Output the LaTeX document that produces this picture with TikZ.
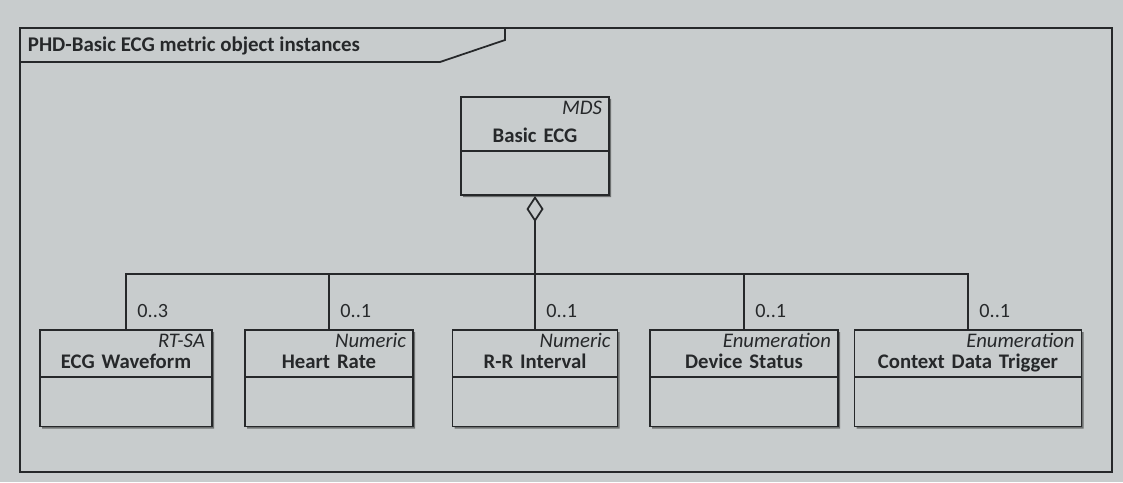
\documentclass[tikz,border=0pt]{standalone}
\usepackage{fontspec}
\setmainfont{Carlito}
\usetikzlibrary{shapes.multipart, arrows.meta, positioning, calc, shadows}
\definecolor{paper}{RGB}{200,204,205}
\definecolor{ink}{RGB}{38,40,42}
\newcommand{\umlhead}[3][0pt]{\makebox[\linewidth][r]{\itshape\strut #2}\\[#1]\textbf{\strut #3}}
\newcommand{\umlbody}[1]{\rule{0pt}{#1}}

\begin{document}
\begin{tikzpicture}[
    x=0.2mm, y=-0.2mm, color=ink, line width=1pt,
    cls/.style={rectangle split, rectangle split parts=2, draw, fill=paper,
                text width=#1, align=center, inner xsep=4pt, inner ysep=1pt,
                font=\fontsize{11.8}{12}\selectfont,
                drop shadow={shadow xshift=1.2pt, shadow yshift=-1.2pt,
                             fill=black, opacity=0.45}},
    mult/.style={anchor=south west, inner sep=1pt,
                 font=\fontsize{11.5}{12.5}\selectfont},
    agg/.style={{Diamond[open, length=0.52cm, width=0.34cm]}-}
  ]
    \fill[paper] (0,0) rectangle (1123,482);

    % package frame
    \draw (20,28) rectangle (1112,472);
    \draw (20,62) -- (440,62) -- (505,40) -- (505,28);
    \node[anchor=west, inner sep=0pt, font=\bfseries\fontsize{11.9}{13}\selectfont]
      (title) at (27,46) {PHD-Basic ECG metric object instances};

    % classes
    \node[cls=2.68cm, anchor=north]
      (mds) at (535,96) {\umlhead[4pt]{MDS}{Basic ECG}\nodepart{second}\umlbody{0.77cm}};
    \node[cls=3.16cm, anchor=north]
      (ecg) at (126,329) {\umlhead{RT-SA}{ECG Waveform}\nodepart{second}\umlbody{0.88cm}};
    \node[cls=3.08cm, anchor=north]
      (hr) at (329,329) {\umlhead{Numeric}{Heart Rate}\nodepart{second}\umlbody{0.88cm}};
    \node[cls=3.02cm, anchor=north]
      (rr) at (535,329) {\umlhead{Numeric}{R-R Interval}\nodepart{second}\umlbody{0.88cm}};
    \node[cls=3.48cm, anchor=north]
      (ds) at (744,329) {\umlhead{Enumeration}{Device Status}\nodepart{second}\umlbody{0.88cm}};
    \node[cls=4.26cm, anchor=north]
      (cdt) at (968,329) {\umlhead{Enumeration}{Context Data Trigger}\nodepart{second}\umlbody{0.88cm}};

    % aggregation
    \coordinate (bus) at (0,274);
    \draw[agg] (mds.south) -- (rr.north);
    \draw (ecg.north) |- (bus -| cdt.north) -- (cdt.north);
    \draw (hr.north) -- (hr.north |- bus);
    \draw (ds.north) -- (ds.north |- bus);

    % multiplicities
    \node[mult] (m-ecg) at ([xshift=5pt, yshift=5pt]ecg.north) {0..3};
    \node[mult] (m-hr) at ([xshift=5pt, yshift=5pt]hr.north) {0..1};
    \node[mult] (m-rr) at ([xshift=5pt, yshift=5pt]rr.north) {0..1};
    \node[mult] (m-ds) at ([xshift=5pt, yshift=5pt]ds.north) {0..1};
    \node[mult] (m-cdt) at ([xshift=5pt, yshift=5pt]cdt.north) {0..1};
  \end{tikzpicture}
\end{document}
